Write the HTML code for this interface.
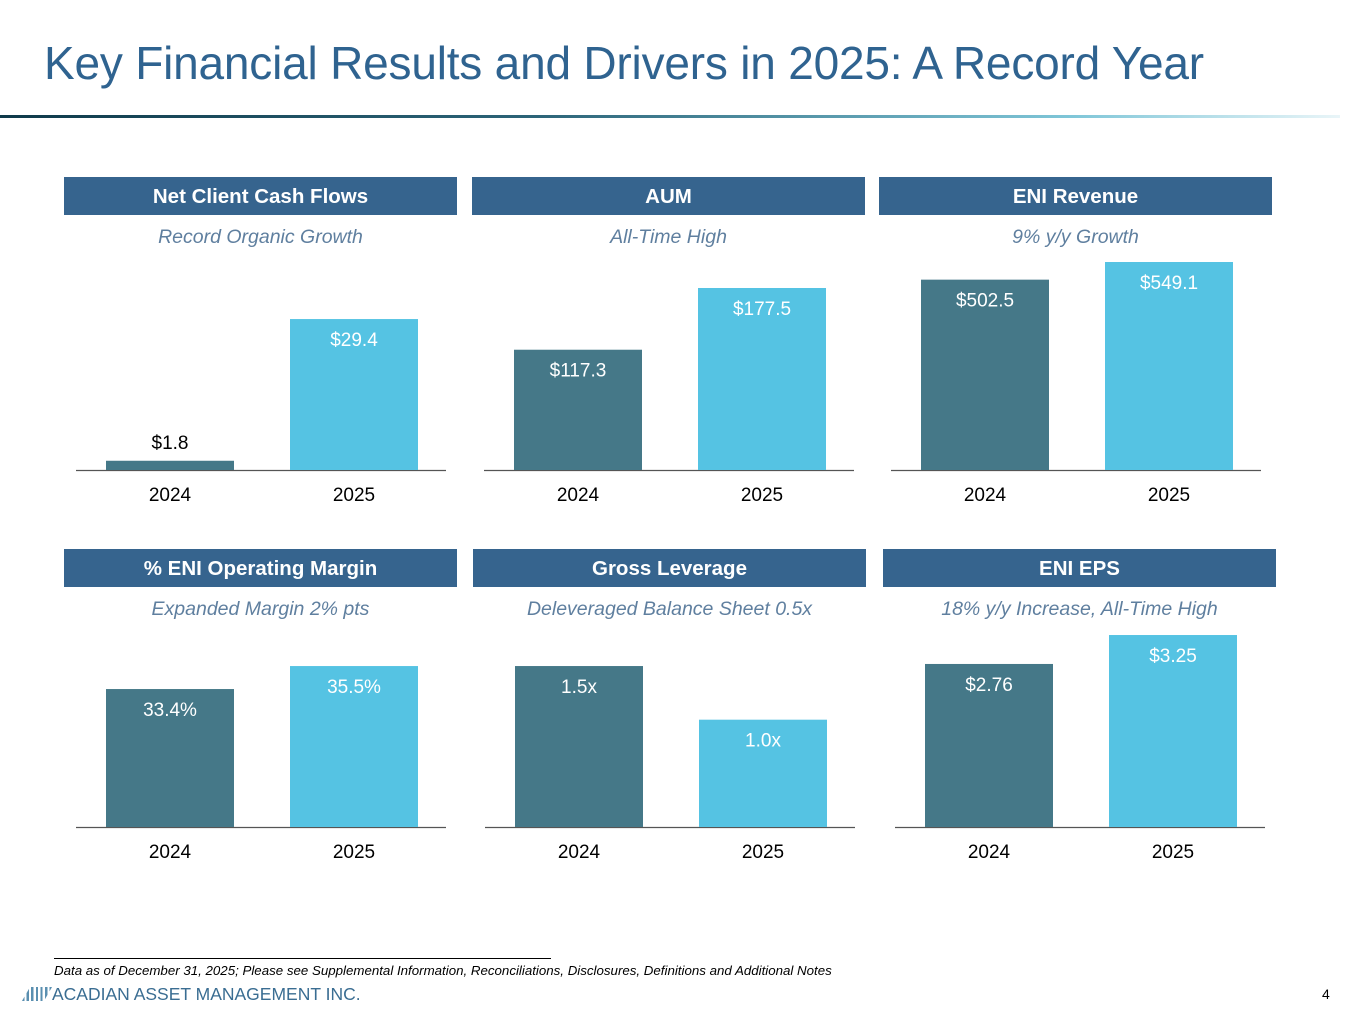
<!DOCTYPE html>
<html><head><meta charset="utf-8"><style>
body{margin:0;width:1365px;height:1024px;background:#fff;position:relative;overflow:hidden;font-family:"Liberation Sans",sans-serif}
.abs{position:absolute}
.title{left:44px;top:36px;font-size:46px;color:#2f6390;white-space:nowrap;letter-spacing:-0.2px}
.rule{left:0;top:115px;width:1340px;height:3px;background:linear-gradient(90deg,#0f3a4a 0%,#2c6478 40%,#7fc6d8 80%,#e9f5f8 100%)}
.hdr{background:#36648e;color:#fff;font-weight:bold;font-size:20.5px;text-align:center;line-height:40px;height:38px;width:393px}
.sub{color:#5f7f9f;font-style:italic;font-size:19.5px;text-align:center;width:393px}
.foot{left:54px;top:963px;font-size:13.3px;font-style:italic;color:#000;white-space:nowrap}
</style></head><body>
<div class="abs title">Key Financial Results and Drivers in 2025: A Record Year</div>
<div class="abs rule"></div>
<svg id="charts" class="abs" style="left:0;top:0" width="1365" height="1024"></svg>
<div class="abs" style="left:54px;top:958px;width:497px;height:1px;background:#000"></div>
<div class="abs foot">Data as of December 31, 2025; Please see Supplemental Information, Reconciliations, Disclosures, Definitions and Additional Notes</div>
<div class="abs" style="left:26px;top:984px;font-size:17.5px;color:#3a6d92;white-space:nowrap"><span style="display:inline-block;width:22px;height:14px;background:repeating-linear-gradient(60deg,#5a8fb0 0 2px,#fff 2px 4px);transform:skewX(-30deg);margin-right:4px;vertical-align:-1px"></span>ACADIAN ASSET MANAGEMENT INC.</div>
<div class="abs" style="left:1322px;top:986px;font-size:14px">4</div>
<script>
const titles=["Net Client Cash Flows","AUM","ENI Revenue","% ENI Operating Margin","Gross Leverage","ENI EPS"];
const subtitles=["Record Organic Growth","All-Time High","9% y/y Growth","Expanded Margin 2% pts","Deleveraged Balance Sheet 0.5x","18% y/y Increase, All-Time High"];
const years=["2024","2025"];
const v2024=[1.8,117.3,502.5,33.4,1.5,2.76];
const v2025=[29.4,177.5,549.1,35.5,1.0,3.25];
const labels2024=["$1.8","$117.3","$502.5","33.4%","1.5x","$2.76"];
const labels2025=["$29.4","$177.5","$549.1","35.5%","1.0x","$3.25"];
const domMin=[0,0,0,20.8,0,0];
const domMax=[40.9,204.8,554.4,39.98,1.957,3.555];
const panelX=[64,472,879,64,473,883];
const panelY=[177,177,177,549,549,549];
const baseY=[470,470,470,827,827,827];
const svg=document.getElementById('charts');const NS='http://www.w3.org/2000/svg';
function mk(t,a){const e=document.createElementNS(NS,t);for(const k in a)e.setAttribute(k,a[k]);svg.appendChild(e);return e;}
for(let i=0;i<6;i++){
  const x0=panelX[i],y0=panelY[i];
  const h=document.createElement('div');h.className='abs hdr';h.style.left=x0+'px';h.style.top=y0+'px';h.textContent=titles[i];
  
  
  document.body.appendChild(h);
  const s=document.createElement('div');s.className='abs sub';s.style.left=x0+'px';s.style.top=(y0+49)+'px';s.textContent=subtitles[i];
  
  
  document.body.appendChild(s);
  const base=baseY[i], plotH=210;
  const y=v=>base-(v-domMin[i])/(domMax[i]-domMin[i])*plotH;
  const ax=mk('line',{x1:x0+12,x2:x0+382,y1:base+0.5,y2:base+0.5,stroke:'#555','stroke-width':1.2});
  
  
  const vals=[v2024[i],v2025[i]],labs=[labels2024[i],labels2025[i]],cols=['#457888','#55c3e3'];
  for(let j=0;j<2;j++){
    const bx=x0+42+j*184,top=y(vals[j]);
    const r=mk('rect',{x:bx,y:top,width:128,height:base-top,fill:cols[j]});
    
    
    const small=(base-top)<30;
    const t=mk('text',{x:bx+64,y:small?top-12:top+27,'text-anchor':'middle','font-size':19,fill:small?'#000':'#fff'});
    t.textContent=labs[j];
    
    
    const yl=mk('text',{x:bx+64,y:base+31,'text-anchor':'middle','font-size':19,fill:'#000'});
    yl.textContent=years[j];
    
    
  }
}
</script>
</body></html>
